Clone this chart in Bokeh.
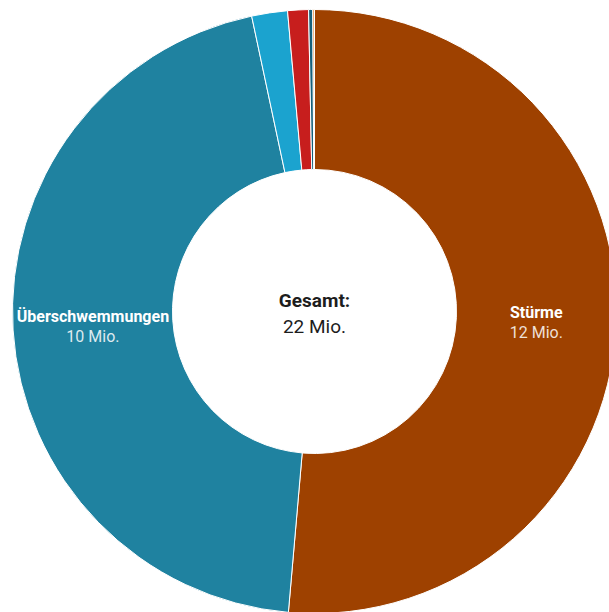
import math
from bokeh.plotting import figure
from bokeh.models import Range1d, ColumnDataSource
from bokeh.core.properties import value
from bokeh.embed import file_html
from bokeh.resources import INLINE

# Data (Mio.)
categories = ["Stürme", "Überschwemmungen", "Sonstige 1", "Sonstige 2", "Sonstige 3", "Sonstige 4"]
values = [11.55, 10.18, 0.43, 0.25, 0.05, 0.02]
colors = ["#9e4100", "#1f82a0", "#1ba3cf", "#c71e1d", "#15607a", "#e08a3c"]
labelled = ["Stürme", "Überschwemmungen"]
total_label = "Gesamt:"

W, H = 609, 612
CX, CY = 314, H - 311
R_OUT, R_IN = 302, 142

total = sum(values)
starts, ends, mids = [], [], []
cum = 0.0
for v in values:
    a0 = math.pi / 2 - 2 * math.pi * cum / total
    cum += v
    a1 = math.pi / 2 - 2 * math.pi * cum / total
    starts.append(a0)
    ends.append(a1)
    mids.append((a0 + a1) / 2)

src = ColumnDataSource(dict(cat=categories, val=values, color=colors, start=starts, end=ends))

p = figure(width=W, height=H, output_backend="svg", toolbar_location=None,
           x_range=Range1d(0, W), y_range=Range1d(0, H), min_border=0)
p.axis.visible = False
p.grid.visible = False
p.outline_line_color = None
p.background_fill_color = "white"
p.border_fill_color = "white"

p.annular_wedge(x=CX, y=CY, inner_radius=R_IN, outer_radius=R_OUT,
                start_angle="start", end_angle="end", direction="clock",
                fill_color="color", line_color="white", line_width=1, source=src)

R_MID = (R_IN + R_OUT) / 2
lx, ly_name, ly_val, names, vals = [], [], [], [], []
for c, v, m in zip(categories, values, mids):
    if c in labelled:
        x = CX + R_MID * math.cos(m)
        y = CY + R_MID * math.sin(m)
        lx.append(x)
        ly_name.append(y + 9)
        ly_val.append(y - 11)
        names.append(c)
        vals.append(f"{round(v)} Mio.")

p.text(x=lx, y=ly_name, text=names, text_font=value("Roboto"), text_font_style="bold",
       text_font_size="16px", text_color="white", text_align="center", text_baseline="middle")
p.text(x=lx, y=ly_val, text=vals, text_font=value("Roboto"),
       text_font_size="16px", text_color="white", text_alpha=0.85,
       text_align="center", text_baseline="middle")

p.text(x=[CX], y=[CY + 11], text=[total_label], text_font=value("Roboto"), text_font_style="bold",
       text_font_size="19px", text_color="#1d1d1d", text_align="center", text_baseline="middle")
p.text(x=[CX], y=[CY - 15], text=[f"{round(total)} Mio."], text_font=value("Roboto"),
       text_font_size="19px", text_color="#1d1d1d", text_align="center", text_baseline="middle")

open("out.html", "w").write(file_html(p, INLINE))
